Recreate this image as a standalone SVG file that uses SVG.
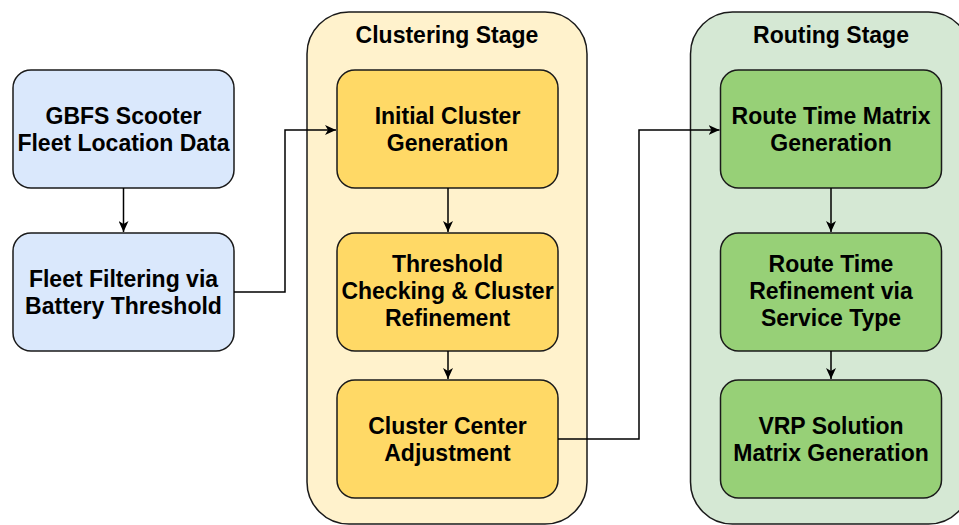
<svg xmlns="http://www.w3.org/2000/svg" width="959" height="525" viewBox="0 0 959 525">
<defs>
<marker id="arr" markerWidth="12" markerHeight="10" viewBox="0 0 12 10" refX="11" refY="5" orient="auto" markerUnits="userSpaceOnUse">
<path d="M0,0 L11,5 L0,10 L3,5 Z" fill="#000"/>
</marker>
</defs>
<style>
text{font-family:"Liberation Sans",Arial,sans-serif;font-weight:bold;font-size:23px;text-anchor:middle;fill:#000}
.box{stroke:#1a1a1a;stroke-width:1.5}
.blue{fill:#dae8fc}
.ycont{fill:#fff2cc}
.ybox{fill:#ffd966}
.gcont{fill:#d5e8d4}
.gbox{fill:#97d077}
.edge{fill:none;stroke:#000;stroke-width:1.5}
</style>
<g id="clustering-stage">
<rect class="box ycont" x="307" y="12" width="280" height="512" rx="42"/>
<text x="447" y="43">Clustering Stage</text>
</g>
<g id="routing-stage">
<rect class="box gcont" x="690.5" y="12" width="280" height="512" rx="42"/>
<text x="831" y="43">Routing Stage</text>
</g>
<g id="gbfs">
<rect class="box blue" x="13" y="70" width="221" height="118" rx="18"/>
<text x="123.5" y="124">GBFS Scooter</text>
<text x="123.5" y="151">Fleet Location Data</text>
</g>
<g id="fleet-filtering">
<rect class="box blue" x="13" y="233" width="221" height="118" rx="18"/>
<text x="123.5" y="287">Fleet Filtering via</text>
<text x="123.5" y="314">Battery Threshold</text>
</g>
<g id="initial-cluster">
<rect class="box ybox" x="337" y="70" width="221" height="118" rx="18"/>
<text x="447.5" y="124">Initial Cluster</text>
<text x="447.5" y="151">Generation</text>
</g>
<g id="threshold-checking">
<rect class="box ybox" x="337" y="233" width="221" height="118" rx="18"/>
<text x="447.5" y="272">Threshold</text>
<text x="447.5" y="299">Checking &amp; Cluster</text>
<text x="447.5" y="326">Refinement</text>
</g>
<g id="cluster-center">
<rect class="box ybox" x="337" y="380" width="221" height="118" rx="18"/>
<text x="447.5" y="434">Cluster Center</text>
<text x="447.5" y="461">Adjustment</text>
</g>
<g id="route-time-matrix">
<rect class="box gbox" x="720.5" y="70" width="221" height="118" rx="18"/>
<text x="831" y="124">Route Time Matrix</text>
<text x="831" y="151">Generation</text>
</g>
<g id="route-time-refinement">
<rect class="box gbox" x="720.5" y="233" width="221" height="118" rx="18"/>
<text x="831" y="272">Route Time</text>
<text x="831" y="299">Refinement via</text>
<text x="831" y="326">Service Type</text>
</g>
<g id="vrp-solution">
<rect class="box gbox" x="720.5" y="380" width="221" height="118" rx="18"/>
<text x="831" y="434">VRP Solution</text>
<text x="831" y="461">Matrix Generation</text>
</g>
<g id="connectors">
<path class="edge" d="M123.5,188 V232" marker-end="url(#arr)"/>
<path class="edge" d="M234,292 H285 V130 H336" marker-end="url(#arr)"/>
<path class="edge" d="M448,188 V232" marker-end="url(#arr)"/>
<path class="edge" d="M448,351 V379" marker-end="url(#arr)"/>
<path class="edge" d="M558,439 H639 V130 H719.5" marker-end="url(#arr)"/>
<path class="edge" d="M831,188 V232" marker-end="url(#arr)"/>
<path class="edge" d="M831,351 V379" marker-end="url(#arr)"/>
</g>
</svg>
